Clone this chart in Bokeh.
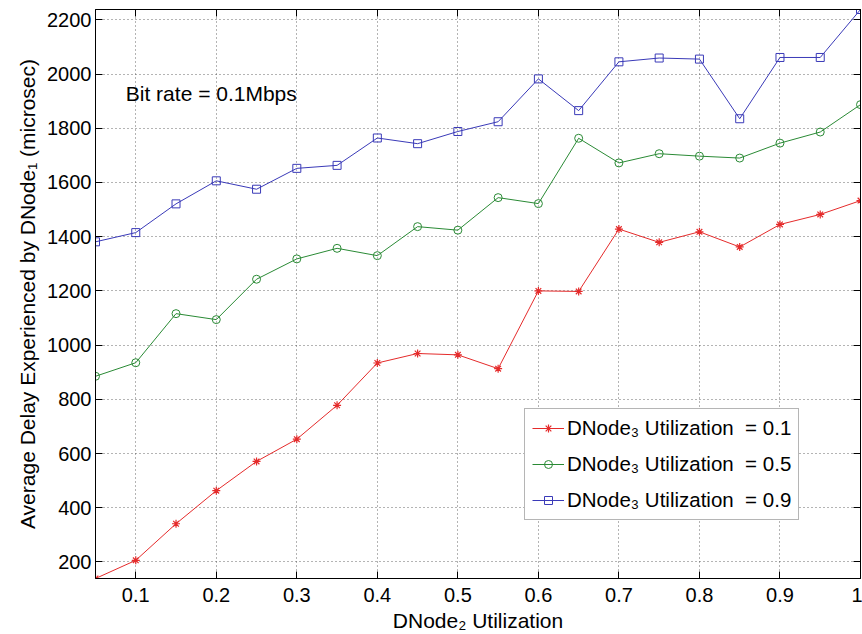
from bokeh.plotting import figure
from bokeh.models import (Range1d, FixedTicker, LinearAxis, Legend, LegendItem, Label,
                          CustomJSTickFormatter)
from bokeh.embed import file_html
from bokeh.resources import INLINE

# ---- data ----
dnode2_util = [0.05, 0.1, 0.15, 0.2, 0.25, 0.3, 0.35, 0.4, 0.45, 0.5,
               0.55, 0.6, 0.65, 0.7, 0.75, 0.8, 0.85, 0.9, 0.95, 1.0]
delay_u01 = [139, 206, 341, 463, 571, 653, 778, 934, 969, 964,
             913, 1200, 1198, 1428, 1379, 1418, 1362, 1445, 1482, 1533]
delay_u05 = [885, 935, 1116, 1094, 1243, 1318, 1357, 1330, 1437, 1424,
             1544, 1522, 1763, 1672, 1706, 1697, 1690, 1745, 1786, 1887]
delay_u09 = [1381, 1415, 1521, 1606, 1575, 1652, 1663, 1764, 1743, 1788,
             1824, 1982, 1865, 2045, 2059, 2055, 1835, 2061, 2061, 2238]
series_labels = ["DNode\u2083 Utilization  = 0.1",
                 "DNode\u2083 Utilization  = 0.5",
                 "DNode\u2083 Utilization  = 0.9"]
x_ticks = [0.1, 0.2, 0.3, 0.4, 0.5, 0.6, 0.7, 0.8, 0.9, 1.0]
x_tick_labels = ["0.1", "0.2", "0.3", "0.4", "0.5", "0.6", "0.7", "0.8", "0.9", "1"]
y_ticks = [200, 400, 600, 800, 1000, 1200, 1400, 1600, 1800, 2000, 2200]

FONT = "Liberation Sans"
all_vals = delay_u01 + delay_u05 + delay_u09

p = figure(width=862, height=634, output_backend="svg", toolbar_location=None,
           x_range=Range1d(min(dnode2_util), max(dnode2_util)),
           y_range=Range1d(min(all_vals), max(all_vals)),
           min_border_left=95, min_border_right=2, min_border_top=9,
           min_border_bottom=54)
p.background_fill_color = "white"
p.border_fill_color = "white"
p.outline_line_color = "black"
p.outline_line_width = 1

p.xaxis.ticker = FixedTicker(ticks=x_ticks)
p.xaxis.major_label_overrides = {t: l for t, l in zip(x_ticks, x_tick_labels)}
p.yaxis.ticker = FixedTicker(ticks=y_ticks)

for ax in (p.xaxis[0], p.yaxis[0]):
    ax.axis_line_color = "black"
    ax.major_tick_line_color = "black"
    ax.major_tick_in = 7
    ax.major_tick_out = 0
    ax.minor_tick_line_color = None
    ax.major_label_text_font = FONT
    ax.major_label_text_font_size = "20px"
    ax.major_label_text_color = "black"
    ax.axis_label_text_font = FONT
    ax.axis_label_text_font_size = "21px"
    ax.axis_label_text_font_style = "normal"
    ax.axis_label_text_color = "black"

p.xaxis.axis_label = "DNode\u2082 Utilization"
p.yaxis.axis_label = "Average Delay Experienced by DNode\u2081 (microsec)"
p.xaxis.major_label_standoff = 9
p.yaxis.major_label_standoff = 4
p.xaxis.axis_label_standoff = 4
p.yaxis.axis_label_standoff = 5

# mirrored axes (ticks only, no labels) on top and right
blank = CustomJSTickFormatter(code="return ''")
top_ax = LinearAxis(ticker=FixedTicker(ticks=x_ticks), major_tick_in=7, major_tick_out=0,
                    minor_tick_line_color=None, formatter=blank,
                    major_label_standoff=0, axis_line_color="black")
right_ax = LinearAxis(ticker=FixedTicker(ticks=y_ticks), major_tick_in=7, major_tick_out=0,
                      minor_tick_line_color=None, formatter=blank,
                      major_label_standoff=0, axis_line_color="black")
p.add_layout(top_ax, "above")
p.add_layout(right_ax, "right")

p.xgrid.grid_line_color = "#444444"
p.ygrid.grid_line_color = "#444444"
p.xgrid.grid_line_dash = "1 3"
p.ygrid.grid_line_dash = "1 3"
p.xgrid.grid_line_alpha = 0.8
p.ygrid.grid_line_alpha = 0.8

colors = ["#e52b2b", "#2a8a35", "#3a3ab8"]
markers = ["asterisk", "circle", "square"]
items = []
for ys, c, m, lab in zip([delay_u01, delay_u05, delay_u09], colors, markers, series_labels):
    lr = p.line(dnode2_util, ys, line_color=c, line_width=1)
    if m == "asterisk":
        sr = p.scatter(dnode2_util, ys, marker=m, size=8, line_color=c, line_width=1.2)
    else:
        sr = p.scatter(dnode2_util, ys, marker=m, size=8, line_color=c,
                       fill_color=None, line_width=1)
    items.append(LegendItem(label=lab, renderers=[lr, sr]))

legend = Legend(items=items, location=(429, 58), margin=0,
                label_text_font=FONT, label_text_font_size="20.5px",
                label_text_color="black",
                glyph_width=32, glyph_height=20, label_height=24,
                label_standoff=3, spacing=12, padding=7,
                border_line_color="#6b6b6b", border_line_width=1,
                background_fill_color="white", background_fill_alpha=1)
p.add_layout(legend, "center")

p.add_layout(Label(x=0.0876, y=1929, text="Bit rate = 0.1Mbps", text_font=FONT,
                   text_font_size="21px", text_baseline="middle", text_color="black"))

open("out.html", "w").write(file_html(p, INLINE))
